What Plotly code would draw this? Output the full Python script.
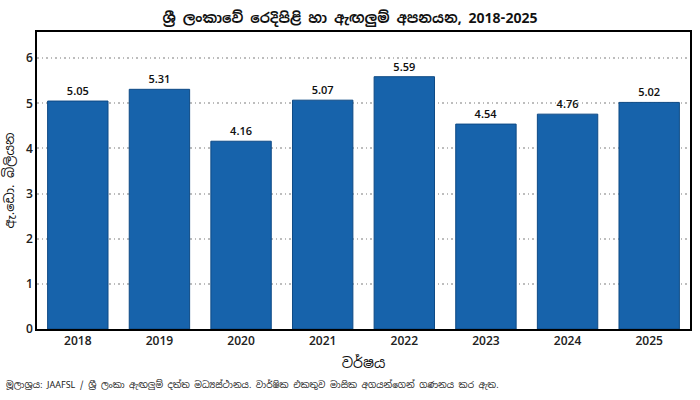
import plotly.graph_objects as go

years = ["2018", "2019", "2020", "2021", "2022", "2023", "2024", "2025"]
values = [5.05, 5.31, 4.16, 5.07, 5.59, 4.54, 4.76, 5.02]
value_labels = ["5.05", "5.31", "4.16", "5.07", "5.59", "4.54", "4.76", "5.02"]

title_text = "ශ්‍රී ලංකාවේ රෙදිපිළි හා ඇඟලුම් අපනයන, 2018-2025"
y_title = "ඇ.ඩො. බිලියන"
x_title = "වර්ෂය"
source_text = "මූලාශ්‍රය: JAAFSL / ශ්‍රී ලංකා ඇඟලුම් දත්ත මධ්‍යස්ථානය. වාර්ෂික එකතුව මාසික අගයන්ගෙන් ගණනය කර ඇත."

FONT = "Noto Sans Sinhala, Noto Sans, Open Sans, DejaVu Sans, sans-serif"

fig = go.Figure(go.Bar(
    x=years, y=values, text=value_labels, textposition="outside",
    textfont=dict(size=11, color="#111111", family=FONT, weight=600),
    marker=dict(color="#1763ab", line=dict(color="#0e4a85", width=1)),
    cliponaxis=False,
))

fig.update_layout(
    width=700, height=400,
    margin=dict(l=37, r=8, t=32, b=71),
    paper_bgcolor="white", plot_bgcolor="white",
    bargap=0.26,
    showlegend=False,
    font=dict(family=FONT, color="#111111"),
    title=dict(text="<b>" + title_text + "</b>", x=0.5, xanchor="center",
               y=0.955, yanchor="middle", font=dict(size=14, color="#111111")),
    xaxis=dict(
        showline=True, linecolor="black", linewidth=1.5, mirror=True,
        tickfont=dict(size=12, color="#222222", weight=600), ticks="",
        title=dict(text=x_title, font=dict(size=14, color="#111111"), standoff=10),
    ),
    yaxis=dict(
        range=[0, 6.58], dtick=1,
        showline=True, linecolor="black", linewidth=1.5, mirror=True,
        showgrid=True, gridcolor="#bdbdbd", griddash="1.5px,3px", gridwidth=1.5,
        zeroline=False,
        tickfont=dict(size=12, color="#222222", weight=600), ticks="",
        title=dict(text=y_title, font=dict(size=13, color="#111111"), standoff=8),
    ),
)

fig.add_annotation(text=source_text, xref="paper", yref="paper",
                   x=-0.05, y=-0.19, xanchor="left", yanchor="middle",
                   showarrow=False, font=dict(size=9, color="#222222"))

fig.write_html("out.html")
